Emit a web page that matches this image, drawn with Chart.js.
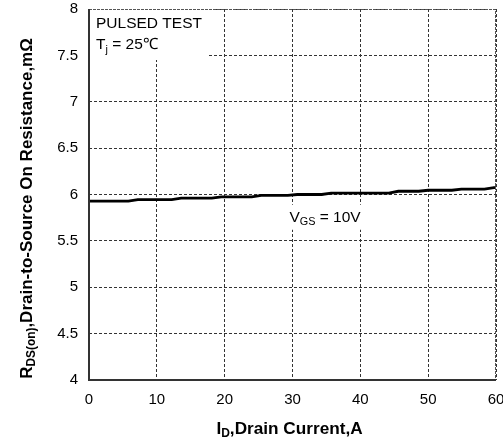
<!DOCTYPE html>
<html>
<head>
<meta charset="utf-8">
<script src="https://cdn.jsdelivr.net/npm/chart.js@4/dist/chart.umd.min.js"></script>
<style>
  html, body { margin: 0; padding: 0; background: #fff; }
  canvas { display: block; }
</style>
</head>
<body>
<canvas id="rdsChart" width="503" height="441"></canvas>
<script>
// drain current (A) and on-resistance (mOhm) (small stair steps)
var currentA = [0, 5.8, 7.2, 12.2, 13.6, 18.1, 19.5, 24, 25.4, 29.3, 30.7, 34.3, 35.7, 44.2, 45.6, 48.6, 50, 53.5, 54.9, 58.3, 59.7, 60];
var rdsOn = [5.928, 5.928, 5.945, 5.945, 5.96, 5.96, 5.975, 5.975, 5.99, 5.99, 6.0, 6.0, 6.015, 6.015, 6.035, 6.035, 6.046, 6.046, 6.057, 6.057, 6.075, 6.075];
var xTicks = [0, 10, 20, 30, 40, 50, 60];
var yTicks = [4, 4.5, 5, 5.5, 6, 6.5, 7, 7.5, 8];

var FONT = '"Liberation Sans", Arial, sans-serif';

// text with a subscript part: [[text, isSub], ...]
function drawParts(ctx, parts, x, y, size, bold, align) {
    var w = 0;
    parts.forEach(function (p) {
        ctx.font = (bold ? 'bold ' : '') + (p[1] ? size * 0.7 : size) + 'px ' + FONT;
        w += ctx.measureText(p[0]).width;
    });
    var cx = align === 'center' ? x - w / 2 : x;
    parts.forEach(function (p) {
        ctx.font = (bold ? 'bold ' : '') + (p[1] ? size * 0.7 : size) + 'px ' + FONT;
        ctx.fillText(p[0], cx, p[1] ? y + size * 0.3 : y);
        cx += ctx.measureText(p[0]).width;
    });
}

var decorations = {
    id: 'decorations',
    beforeDatasetsDraw: function (chart) {
        var ctx = chart.ctx, xs = chart.scales.x, ys = chart.scales.y;
        ctx.save();
        ctx.fillStyle = '#fff';
        // box top left
        ctx.fillRect(xs.left, ys.top, xs.getPixelForValue(17.5) - xs.left, ys.getPixelForValue(7.45) - ys.top);
        // box behind VGS label
        ctx.fillRect(xs.getPixelForValue(29.6), ys.getPixelForValue(5.89), xs.getPixelForValue(40.6) - xs.getPixelForValue(29.6), ys.getPixelForValue(5.62) - ys.getPixelForValue(5.89));
        ctx.fillStyle = '#000';
        ctx.textBaseline = 'middle';
        ctx.textAlign = 'left';
        ctx.font = '15.5px ' + FONT;
        ctx.fillText('PULSED TEST', xs.left + 7, ys.top + 15);
        drawParts(ctx, [['T', false], ['j', true], [' = 25\u2103', false]], xs.left + 7, ys.top + 36, 15.5, false, 'left');
        drawParts(ctx, [['V', false], ['GS', true], [' = 10V', false]], xs.getPixelForValue(34.8), ys.getPixelForValue(5.75), 15.5, false, 'center');
        ctx.restore();
    },
    afterDraw: function (chart) {
        var ctx = chart.ctx, a = chart.chartArea;
        ctx.save();
        // frame: left/bottom solid, top/right lighter
        ctx.strokeStyle = '#555';
        ctx.lineWidth = 1;
        ctx.setLineDash([3, 1]);
        ctx.beginPath();
        ctx.moveTo(a.left, a.top + 0.5);
        ctx.lineTo(a.right - 0.5, a.top + 0.5);
        ctx.lineTo(a.right - 0.5, a.bottom);
        ctx.stroke();
        ctx.setLineDash([]);
        ctx.strokeStyle = '#333';
        ctx.lineWidth = 2;
        ctx.beginPath();
        ctx.moveTo(a.left, a.top);
        ctx.lineTo(a.left, a.bottom);
        ctx.lineTo(a.right, a.bottom);
        ctx.stroke();
        ctx.fillStyle = '#000';
        ctx.textBaseline = 'middle';
        // x title
        drawParts(ctx, [['I', false], ['D', true], [',Drain Current,A', false]], (a.left + a.right) / 2 - 3, 429, 17.2, true, 'center');
        // y title
        ctx.translate(27, (a.top + a.bottom) / 2 + 14);
        ctx.rotate(-Math.PI / 2);
        drawParts(ctx, [['R', false], ['DS(on)', true], [',Drain-to-Source On Resistance,m\u03A9', false]], 0, 0, 17, true, 'center');
        ctx.restore();
    }
};

new Chart(document.getElementById('rdsChart'), {
    type: 'scatter',
    data: {
        datasets: [{
            data: currentA.map(function (x, i) { return { x: x, y: rdsOn[i] }; }),
            showLine: true,
            borderColor: '#000',
            borderWidth: 2.8,
            pointRadius: 0,
            tension: 0,
            fill: false
        }]
    },
    options: {
        responsive: false,
        animation: false,
        layout: { padding: { top: 9, right: 7, left: 0, bottom: 0 } },
        plugins: { legend: { display: false }, tooltip: { enabled: false } },
        scales: {
            x: {
                type: 'linear', min: 0, max: 60,
                afterFit: function (s) { s.height = 61; s.paddingLeft = 0; s.paddingRight = 0; },
                afterBuildTicks: function (s) { s.ticks = xTicks.map(function (v) { return { value: v }; }); },
                grid: { color: '#333', drawTicks: false },
                border: { display: false, dash: [3, 2] },
                ticks: { padding: 11, color: '#000', font: { family: FONT, size: 15 }, maxRotation: 0,
                    callback: function (v) { return String(v); } }
            },
            y: {
                min: 4, max: 8,
                afterFit: function (s) { s.width = 89; s.paddingTop = 0; s.paddingBottom = 0; },
                afterBuildTicks: function (s) { s.ticks = yTicks.map(function (v) { return { value: v }; }); },
                grid: { color: '#333', drawTicks: false },
                border: { display: false, dash: [3, 2] },
                ticks: { padding: 11, color: '#000', font: { family: FONT, size: 15 },
                    callback: function (v) { return String(v); } }
            }
        }
    },
    plugins: [decorations]
});
</script>
</body>
</html>
